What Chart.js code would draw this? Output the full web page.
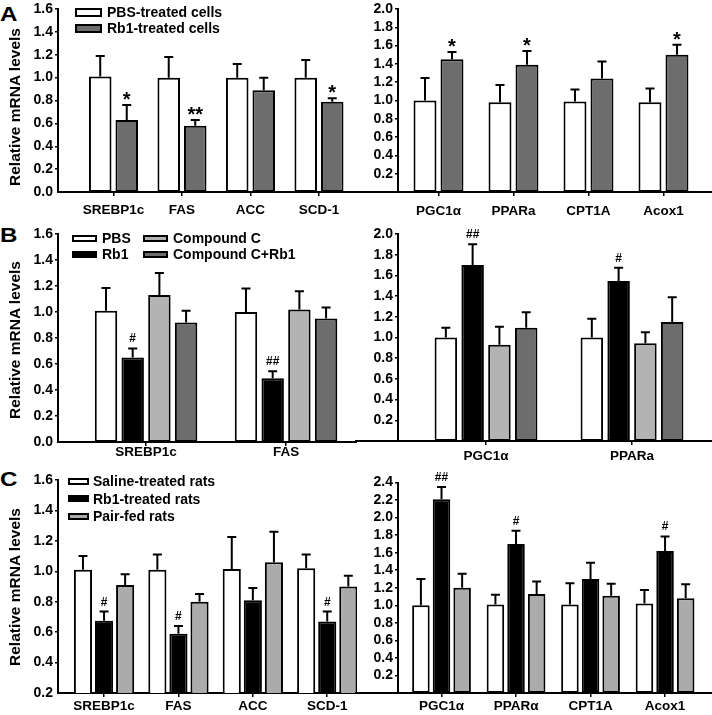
<!DOCTYPE html>
<html>
<head>
<meta charset="utf-8">
<script src="https://cdn.jsdelivr.net/npm/chart.js@4.4.1/dist/chart.umd.min.js"></script>
<style>
    body { margin: 0; background: #fff; width: 712px; height: 715px; position: relative; overflow: hidden;
           font-family: "Liberation Sans", Arial, sans-serif; }
    canvas { position: absolute; }
    .letter { position: absolute; font-weight: bold; font-size: 21px; line-height: 21px;
              transform: scaleX(1.15); transform-origin: left top; }
    .ytitle { position: absolute; white-space: nowrap; font-weight: bold; font-size: 15.5px; line-height: 18px;
              transform: translate(-50%, -50%) rotate(-90deg); }
    .lg-item { position: absolute; white-space: nowrap; font-weight: bold; font-size: 14px; line-height: 16px; height: 16px; }
    .lg-box { position: absolute; border: 2px solid #000; box-sizing: border-box; }
</style>
</head>
<body>
<div class="letter" style="left:0;top:3px">A</div>
<div class="letter" style="left:0;top:224px">B</div>
<div class="letter" style="left:0;top:468px">C</div>
<script>
const family = '"Liberation Sans", Arial, sans-serif';

// gene labels
const lipoGenes = ['SREBP1c', 'FAS', 'ACC', 'SCD-1'];
const oxGenesA = ['PGC1α', 'PPARa', 'CPT1A', 'Acox1'];
const lipoGenesB = ['SREBP1c', 'FAS'];
const oxGenesB = ['PGC1α', 'PPARa'];
const oxGenesC = ['PGC1α', 'PPARα', 'CPT1A', 'Acox1'];

// A: cells
const aPbsLipo = [1.01, 1.00, 1.00, 1.00];
const aPbsLipoErr = [0.18, 0.18, 0.12, 0.155];
const aRb1Lipo = [0.63, 0.58, 0.89, 0.79];
const aRb1LipoErr = [0.13, 0.05, 0.11, 0.03];
const aRb1LipoSig = ['*', '**', '', '*'];
const aPbsOx = [1.00, 0.98, 0.99, 0.98];
const aPbsOxErr = [0.245, 0.19, 0.13, 0.15];
const aRb1Ox = [1.45, 1.39, 1.24, 1.50];
const aRb1OxErr = [0.08, 0.15, 0.185, 0.11];
const aRb1OxSig = ['*', '*', '', '*'];

// B: compound C
const bPbsLipo = [1.01, 1.00];
const bPbsLipoErr = [0.175, 0.18];
const bRb1Lipo = [0.65, 0.49];
const bRb1LipoErr = [0.07, 0.055];
const bRb1LipoSig = ['#', '##'];
const bCompLipo = [1.13, 1.02];
const bCompLipoErr = [0.17, 0.14];
const bCompRb1Lipo = [0.92, 0.95];
const bCompRb1LipoErr = [0.09, 0.085];
const bPbsOx = [1.00, 1.00];
const bPbsOxErr = [0.095, 0.18];
const bRb1Ox = [1.70, 1.545];
const bRb1OxErr = [0.20, 0.13];
const bRb1OxSig = ['##', '#'];
const bCompOx = [0.93, 0.945];
const bCompOxErr = [0.175, 0.105];
const bCompRb1Ox = [1.095, 1.15];
const bCompRb1OxErr = [0.15, 0.24];

// C: rats
const cSalLipo = [1.01, 1.01, 1.015, 1.02];
const cSalLipoErr = [0.09, 0.10, 0.21, 0.09];
const cRb1Lipo = [0.675, 0.59, 0.81, 0.67];
const cRb1LipoErr = [0.06, 0.05, 0.08, 0.065];
const cRb1LipoSig = ['#', '#', '', '#'];
const cPairLipo = [0.91, 0.80, 1.06, 0.90];
const cPairLipoErr = [0.07, 0.05, 0.20, 0.07];
const cSalOx = [1.00, 1.01, 1.01, 1.02];
const cSalOxErr = [0.30, 0.11, 0.24, 0.155];
const cRb1Ox = [2.21, 1.70, 1.30, 1.62];
const cRb1OxErr = [0.14, 0.15, 0.185, 0.165];
const cRb1OxSig = ['##', '#', '', '#'];
const cPairOx = [1.20, 1.13, 1.11, 1.08];
const cPairOxErr = [0.16, 0.14, 0.135, 0.16];

const WHITE = '#ffffff', BLACK = '#000000', DARK = '#6d6d6d', LIGHT = '#b3b3b3', PAIR = '#ababab';
const Y_TITLE = 'Relative mRNA levels';

// error bars + significance marks
const errorBarPlugin = {
    id: 'errorBars',
    afterDatasetsDraw(chart) {
        const ctx = chart.ctx;
        const yScale = chart.scales.y;
        ctx.save();
        ctx.strokeStyle = '#000';
        ctx.lineWidth = 2;
        chart.data.datasets.forEach((ds, di) => {
            chart.getDatasetMeta(di).data.forEach((bar, i) => {
                const top = yScale.getPixelForValue(ds.data[i].y + ds.err[i]);
                ctx.beginPath();
                ctx.moveTo(bar.x, bar.y);
                ctx.lineTo(bar.x, top);
                ctx.moveTo(bar.x - 4.5, top);
                ctx.lineTo(bar.x + 4.5, top);
                ctx.stroke();
                const mark = ds.sig ? ds.sig[i] : '';
                if (mark) {
                    ctx.fillStyle = '#000';
                    ctx.textAlign = 'center';
                    ctx.textBaseline = 'alphabetic';
                    if (mark[0] === '*') {
                        ctx.font = 'bold 20px ' + family;
                        ctx.fillText(mark, bar.x, top + 1);
                    } else {
                        ctx.font = 'bold 12px ' + family;
                        ctx.fillText(mark, bar.x, top - 6);
                    }
                }
            });
        });
        ctx.restore();
    }
};

// right-hand panels: x axis runs on to the left of the y axis
const axisExtendPlugin = {
    id: 'axisExtend',
    afterDraw(chart, args, opts) {
        if (!opts.on) return;
        const ctx = chart.ctx;
        const a = chart.chartArea;
        ctx.save();
        ctx.strokeStyle = '#000';
        ctx.lineWidth = 2;
        ctx.beginPath();
        ctx.moveTo(0, Math.round(a.bottom));
        ctx.lineTo(a.left, Math.round(a.bottom));
        ctx.stroke();
        ctx.restore();
    }
};

const panels = [
    {left: 0, top: 0, w: 357, h: 225, axisX: 58, areaTop: 7, areaBottom: 192, xMin: -0.81, xMax: 3.555,
     yMin: 0, yMax: 1.6, cp: 0.774, bp: 0.85, xPad: 6, titleY: 107, genes: lipoGenes,
     series: [
         {label: 'PBS-treated cells', color: WHITE, values: aPbsLipo, err: aPbsLipoErr},
         {label: 'Rb1-treated cells', color: DARK, values: aRb1Lipo, err: aRb1LipoErr, sig: aRb1LipoSig}
     ],
     legend: {cols: [75], rows: 2, y0: 12, dy: 16, boxW: 27, boxH: 9, gap: 5}},
    {left: 355, top: 0, w: 357, h: 225, axisX: 43, areaTop: 8, areaBottom: 192, xMin: -0.54, xMax: 3.647,
     yMin: 0, yMax: 2.0, hideZero: true, cp: 0.72, bp: 0.85, xPad: 7, genes: oxGenesA, extend: true,
     series: [
         {label: 'PBS-treated cells', color: WHITE, values: aPbsOx, err: aPbsOxErr},
         {label: 'Rb1-treated cells', color: DARK, values: aRb1Ox, err: aRb1OxErr, sig: aRb1OxSig}
     ]},
    {left: 0, top: 225, w: 357, h: 240, axisX: 58, areaTop: 7, areaBottom: 217, xMin: -0.629, xMax: 1.507,
     yMin: 0, yMax: 1.6, cp: 0.763, bp: 0.84, xPad: -2, titleY: 340, genes: lipoGenesB,
     series: [
         {label: 'PBS', color: WHITE, values: bPbsLipo, err: bPbsLipoErr},
         {label: 'Rb1', color: BLACK, values: bRb1Lipo, err: bRb1LipoErr, sig: bRb1LipoSig},
         {label: 'Compound C', color: LIGHT, values: bCompLipo, err: bCompLipoErr},
         {label: 'Compound C+Rb1', color: DARK, values: bCompRb1Lipo, err: bCompRb1LipoErr}
     ],
     legend: {cols: [72, 143], rows: 2, y0: 238, dy: 16, boxW: 25, boxH: 7, gap: 5}},
    {left: 355, top: 225, w: 357, h: 240, axisX: 43, areaTop: 9, areaBottom: 216, xMin: -0.603, xMax: 1.548,
     yMin: 0, yMax: 2.0, hideZero: true, cp: 0.734, bp: 0.84, xPad: 3, genes: oxGenesB, extend: true,
     series: [
         {label: 'PBS', color: WHITE, values: bPbsOx, err: bPbsOxErr},
         {label: 'Rb1', color: BLACK, values: bRb1Ox, err: bRb1OxErr, sig: bRb1OxSig},
         {label: 'Compound C', color: LIGHT, values: bCompOx, err: bCompOxErr},
         {label: 'Compound C+Rb1', color: DARK, values: bCompRb1Ox, err: bCompRb1OxErr}
     ]},
    {left: 0, top: 465, w: 357, h: 250, axisX: 58, areaTop: 15, areaBottom: 228, xMin: -0.619, xMax: 3.40,
     yMin: 0.2, yMax: 1.6, cp: 0.85, bp: 0.86, xPad: 1, titleY: 587, genes: lipoGenes,
     series: [
         {label: 'Saline-treated rats', color: WHITE, values: cSalLipo, err: cSalLipoErr},
         {label: 'Rb1-treated rats', color: BLACK, values: cRb1Lipo, err: cRb1LipoErr, sig: cRb1LipoSig},
         {label: 'Pair-fed rats', color: PAIR, values: cPairLipo, err: cPairLipoErr}
     ],
     legend: {cols: [68], rows: 3, y0: 481, dy: 17.5, boxW: 21, boxH: 7, gap: 4}},
    {left: 355, top: 465, w: 357, h: 250, axisX: 43, areaTop: 17.5, areaBottom: 228, xMin: -0.584, xMax: 3.63,
     yMin: 0, yMax: 2.4, hideZero: true, cp: 0.83, bp: 0.85, xPad: 1, genes: oxGenesC, extend: true,
     series: [
         {label: 'Saline-treated rats', color: WHITE, values: cSalOx, err: cSalOxErr},
         {label: 'Rb1-treated rats', color: BLACK, values: cRb1Ox, err: cRb1OxErr, sig: cRb1OxSig},
         {label: 'Pair-fed rats', color: PAIR, values: cPairOx, err: cPairOxErr}
     ]}
];

function makeChart(p) {
    const canvas = document.createElement('canvas');
    canvas.width = p.w;
    canvas.height = p.h;
    canvas.style.left = p.left + 'px';
    canvas.style.top = p.top + 'px';
    document.body.appendChild(canvas);

    const datasets = p.series.map(s => ({
        label: s.label,
        data: s.values.map((v, i) => ({x: i, y: v})),
        err: s.err,
        sig: s.sig,
        backgroundColor: s.color,
        borderColor: '#000',
        borderWidth: 2,
        borderSkipped: false,
        categoryPercentage: p.cp,
        barPercentage: p.bp
    }));

    const chart = new Chart(canvas, {
        type: 'bar',
        data: {datasets},
        options: {
            responsive: false,
            animation: false,
            devicePixelRatio: 1,
            layout: {autoPadding: false, padding: {top: p.areaTop, left: 0, right: 0, bottom: 0}},
            plugins: {
                legend: {display: false},
                tooltip: {enabled: false},
                axisExtend: {on: !!p.extend}
            },
            scales: {
                x: {
                    type: 'linear',
                    min: p.xMin,
                    max: p.xMax,
                    offset: false,
                    afterBuildTicks: ax => { ax.ticks = p.genes.map((g, i) => ({value: i})); },
                    afterFit: ax => { ax.height = p.h - p.areaBottom; },
                    grid: {offset: false, drawOnChartArea: false, drawTicks: true, tickLength: 4, color: '#000', lineWidth: 1.5},
                    border: {color: '#000', width: 2},
                    ticks: {
                        autoSkip: false, maxRotation: 0, minRotation: 0, padding: p.xPad, color: '#000',
                        font: {family, size: 13.5, weight: 'bold'},
                        callback: v => p.genes[v]
                    }
                },
                y: {
                    min: p.yMin,
                    max: p.yMax,
                    afterFit: ax => { ax.width = p.axisX; },
                    // no tick line at the base value, so the bars sit right on the axis
                    grid: {drawOnChartArea: false, drawTicks: true, tickLength: 3, color: '#000',
                           lineWidth: c => (c.tick && Math.abs(c.tick.value - p.yMin) < 1e-9) ? 0 : 1.5},
                    border: {color: '#000', width: 2},
                    ticks: {
                        stepSize: 0.2, padding: 2, color: '#000',
                        font: {family, size: 14, weight: 'bold', lineHeight: 1},
                        callback: v => (p.hideZero && Math.abs(v) < 1e-9) ? '' : v.toFixed(1)
                    }
                }
            }
        },
        plugins: [errorBarPlugin, axisExtendPlugin]
    });

    // the layout adds a little at the top; pull the plot area back to where it belongs
    const dTop = p.areaTop - chart.chartArea.top;
    if (Math.abs(dTop) > 0.01) {
        chart.config.options.layout.padding.top = p.areaTop + dTop;
        chart.update();
    }
}

function makeLegend(p) {
    const lg = p.legend;
    p.series.forEach((s, k) => {
        const col = Math.floor(k / lg.rows);
        const row = k % lg.rows;
        const cy = lg.y0 + row * lg.dy;
        const box = document.createElement('div');
        box.className = 'lg-box';
        box.style.cssText = `left:${lg.cols[col]}px;top:${cy - lg.boxH / 2}px;width:${lg.boxW}px;height:${lg.boxH}px;background:${s.color};`;
        document.body.appendChild(box);
        const text = document.createElement('div');
        text.className = 'lg-item';
        text.style.left = (lg.cols[col] + lg.boxW + lg.gap) + 'px';
        text.style.top = (cy - 8) + 'px';
        text.textContent = s.label;
        document.body.appendChild(text);
    });
}

function makeTitle(p) {
    const t = document.createElement('div');
    t.className = 'ytitle';
    t.style.left = '15px';
    t.style.top = p.titleY + 'px';
    t.textContent = Y_TITLE;
    document.body.appendChild(t);
}

panels.forEach(p => makeChart(p));
panels.filter(p => p.legend).forEach(p => makeLegend(p));
panels.filter(p => p.titleY).forEach(p => makeTitle(p));
</script>
</body>
</html>
